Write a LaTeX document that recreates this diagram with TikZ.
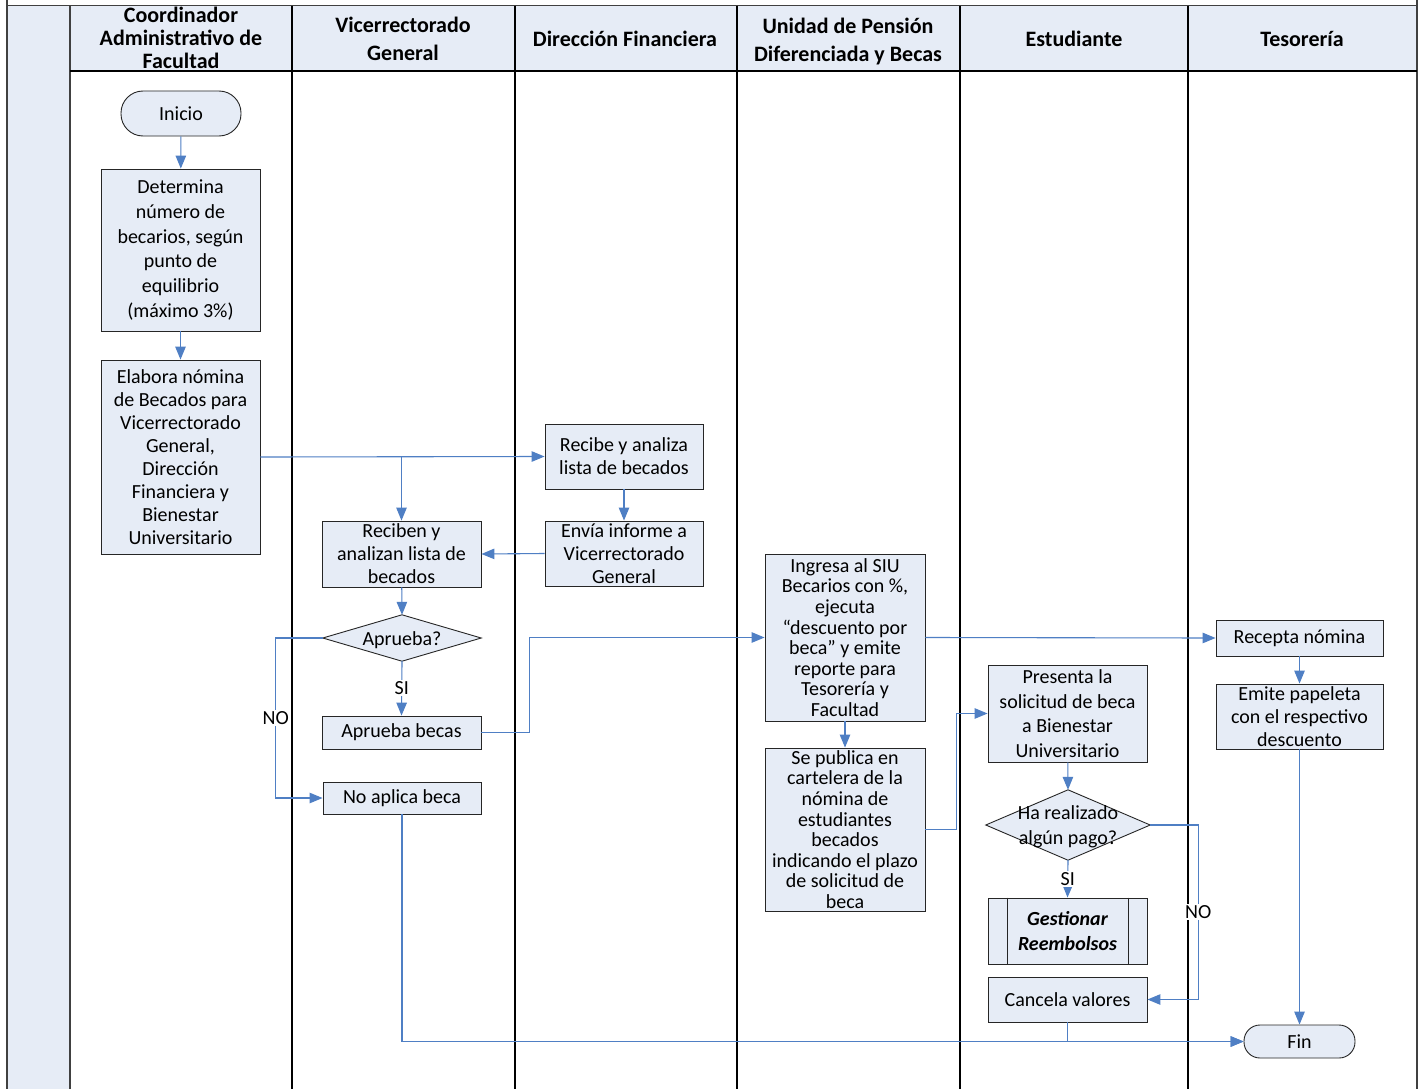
\documentclass[tikz,border=0pt]{standalone}
\usepackage{fontspec}
\setmainfont{Carlito}
\usetikzlibrary{arrows.meta}
\definecolor{fillb}{HTML}{E6ECF6}
\definecolor{lineb}{HTML}{4F7FC4}
\definecolor{frame}{HTML}{404040}
\begin{document}
\begin{tikzpicture}[x=1pt,y=-1pt,
  box/.style={draw=black!85,fill=fillb,line width=0.9pt,inner sep=0pt,align=center,font=\fontsize{20}{23}\selectfont},
  term/.style={box,rounded corners=22pt},
  dia/.style={inner sep=0pt,align=center,font=\fontsize{20}{25}\selectfont},
  head/.style={align=center,font=\bfseries\fontsize{22}{28}\selectfont},
  conn/.style={draw=lineb,line width=1.1pt},
  arr/.style={conn,-{Triangle[length=13pt,width=10.5pt]}},
  lbl/.style={fill=white,inner sep=1.5pt,font=\fontsize{20}{22}\selectfont}]
\useasboundingbox (0,0) rectangle (1423,1089);
\fill[white] (0,0) rectangle (1423,1089);
% pool frame
\fill[fillb] (7,6) rectangle (70,1089);
\fill[fillb] (70,6) rectangle (1417,71);
\draw[frame,line width=1.5pt] (7,0) -- (7,1089);
\draw[frame,line width=1.5pt] (1417,0) -- (1417,1089);
\draw[frame,line width=1.5pt] (7,5.5) -- (1417,5.5);
\draw[frame,line width=1.6pt] (70,6) -- (70,1089);
\foreach \xx in {292,515,737,960,1188} \draw[black,line width=1.1pt] (\xx,6) -- (\xx,1089);
\draw[black,line width=1.1pt] (70,71) -- (1417,71);
% headers
\node[head,font=\bfseries\fontsize{22}{23}\selectfont] (h1) at (181,38) {Coordinador\\Administrativo de\\Facultad};
\node[head] (h2) at (403,39) {Vicerrectorado\\General};
\node[head] (h3) at (625,39) {Dirección Financiera};
\node[head] (h4) at (848,42) {Unidad de Pensión\\Diferenciada y Becas};
\node[head] (h5) at (1074,39) {Estudiante};
\node[head] (h6) at (1302,39) {Tesorería};
% nodes
\node[term,minimum width=120pt,minimum height=45pt] (ini) at (181,113.5) {Inicio};
\node[box,minimum width=159pt,minimum height=162pt,font=\fontsize{20}{24.8}\selectfont] (det) at (180.5,250)
  {Determina\\número de\\becarios, según\\punto de\\equilibrio\\(máximo 3\%)};
\node[box,minimum width=159pt,minimum height=194pt] (elab) at (180.5,457)
  {Elabora nómina\\de Becados para\\Vicerrectorado\\General,\\Dirección\\Financiera y\\Bienestar\\Universitario};
\node[box,minimum width=158pt,minimum height=65pt] (recibe) at (624,456.5) {Recibe y analiza\\lista de becados};
\node[box,minimum width=158pt,minimum height=65pt] (envia) at (624,553.5) {Envía informe a\\Vicerrectorado\\General};
\node[box,minimum width=159pt,minimum height=66pt] (reciben) at (401.5,554) {Reciben y\\analizan lista de\\becados};
\node[dia,minimum width=158pt,minimum height=46pt] (ap) at (402,638) {};
\filldraw[fill=fillb,draw=black!85,line width=0.9pt] (ap.north) -- (ap.east) -- (ap.south) -- (ap.west) -- cycle;
\node[dia] (apt) at ([yshift=-2pt]ap.center) {Aprueba?};
\node[box,minimum width=159pt,minimum height=33pt] (apb) at (401.5,732.5) {Aprueba becas};
\node[box,minimum width=158pt,minimum height=32pt] (noap) at (402,798) {No aplica beca};
\node[box,minimum width=160pt,minimum height=167pt,font=\fontsize{20}{20.6}\selectfont] (ing) at (845,637.5)
  {Ingresa al SIU\\Becarios con \%,\\ejecuta\\“descuento por\\beca” y emite\\reporte para\\Tesorería y\\Facultad};
\node[box,minimum width=160pt,minimum height=163pt,font=\fontsize{20}{20.6}\selectfont] (pub) at (845,829.5)
  {Se publica en\\cartelera de la\\nómina de\\estudiantes\\becados\\indicando el plazo\\de solicitud de\\beca};
\node[box,minimum width=167pt,minimum height=36pt] (rec) at (1299.5,638) {Recepta nómina};
\node[box,minimum width=167pt,minimum height=65pt] (emi) at (1299.5,716.5) {Emite papeleta\\con el respectivo\\descuento};
\node[box,minimum width=159pt,minimum height=97pt,font=\fontsize{20}{24.7}\selectfont] (pres) at (1067.5,713.5)
  {Presenta la\\solicitud de beca\\a Bienestar\\Universitario};
\node[dia,minimum width=164pt,minimum height=70pt] (ha) at (1068,825) {};
\filldraw[fill=fillb,draw=black!85,line width=0.9pt] (ha.north) -- (ha.east) -- (ha.south) -- (ha.west) -- cycle;
\node[dia] (hat) at ([yshift=-1.5pt]ha.center) {Ha realizado\\algún pago?};
\node[box,minimum width=159pt,minimum height=66pt,font=\bfseries\itshape\fontsize{20}{25}\selectfont] (gest) at (1067.5,931) {Gestionar\\Reembolsos};
\draw[black!85,line width=0.9pt] ([xshift=20pt]gest.north west) -- ([xshift=20pt]gest.south west);
\draw[black!85,line width=0.9pt] ([xshift=-19pt]gest.north east) -- ([xshift=-19pt]gest.south east);
\node[box,minimum width=159pt,minimum height=45pt] (canc) at (1067.5,999.5) {Cancela valores};
\node[term,minimum width=111pt,minimum height=33pt,rounded corners=16pt] (fin) at (1299.5,1041.5) {Fin};
% connectors
\draw[arr] (ini) -- (det);
\draw[arr] (det) -- (elab);
\draw[arr] (elab.east) -- (recibe.west);
\draw[arr] (reciben.north |- elab.east) -- (reciben.north);
\draw[arr] (recibe) -- (envia);
\draw[arr] (envia.west) -- (reciben.east);
\draw[arr] (reciben) -- (ap.north);
\draw[arr] (ap.south) -- node[lbl] {SI} (apb.north);
\draw[arr] (ap.west) -- ++(-47,0) |- node[lbl,pos=0.25] {NO} (noap.west);
\draw[arr] (apb.east) -- ++(48,0) |- (ing.west);
\draw[arr] (ing.east) -- (rec.west);
\draw[arr] (rec) -- (emi);
\draw[arr] (emi.south) -- (fin.north);
\draw[arr] (ing) -- (pub);
\draw[arr] (pub.east) -- ++(31,0) |- (pres.west);
\draw[arr] (pres) -- (ha.north);
\draw[arr] (ha.south) -- node[lbl] {SI} (gest.north);
\draw[arr] (ha.east) -- ++(48,0) |- node[lbl,pos=0.25] {NO} (canc.east);
\draw[arr] (noap.south) |- (fin.west);
\draw[arr] (canc.south) |- (fin.west);
\end{tikzpicture}
\end{document}
